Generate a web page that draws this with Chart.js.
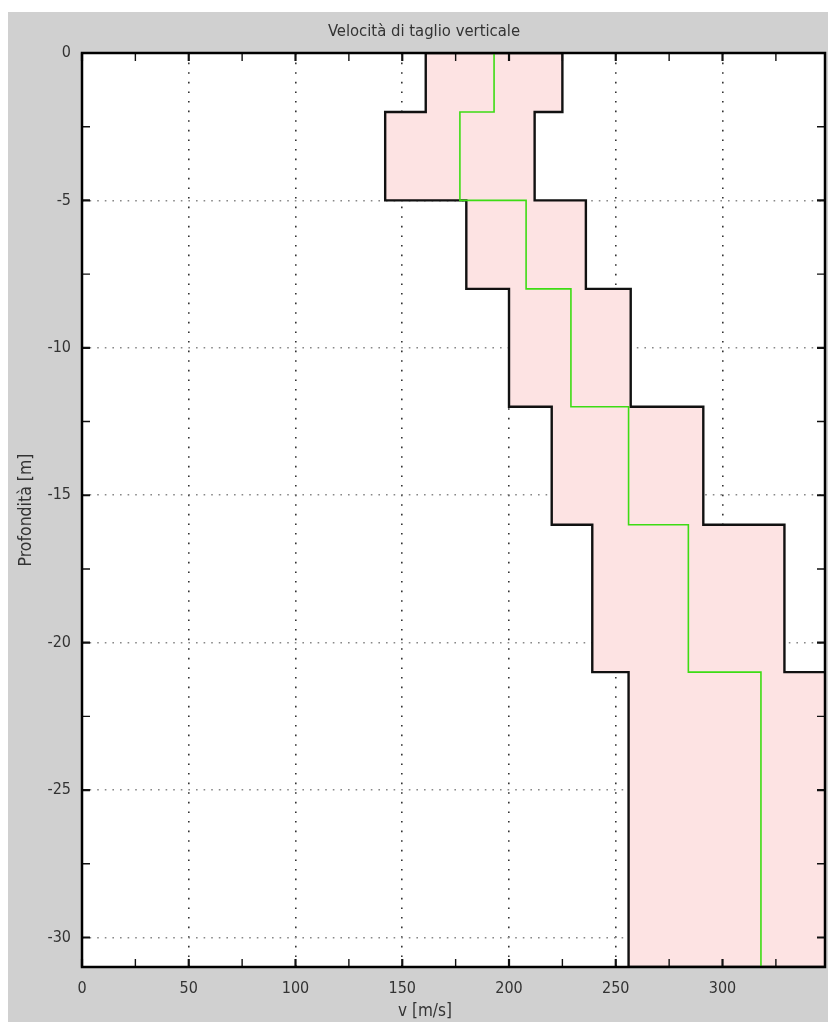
<!DOCTYPE html>
<html lang="it">
<head>
<meta charset="utf-8">
<title>Velocità di taglio verticale</title>
<script src="https://cdn.jsdelivr.net/npm/chart.js@4/dist/chart.umd.min.js"></script>
<style>
  html, body { margin: 0; padding: 0; background: #ffffff; }
  canvas { display: block; }
</style>
</head>
<body>
<canvas id="vsProfile" width="828" height="1022"></canvas>
<script>
// Layer boundaries (depth, m) and shear-wave velocity per layer (m/s)
const depthBounds = [0, -2, -5, -8, -12, -16, -21, -31];
const vsMin  = [161, 142, 180, 200, 220, 239, 256];
const vsMax  = [225, 212, 236, 257, 291, 329, 380];
const vsMean = [193, 177, 208, 229, 256, 284, 318];

// Labelled ticks
const xMajorTicks = [0, 50, 100, 150, 200, 250, 300];
const yMajorTicks = [0, -5, -10, -15, -20, -25, -30];

// Turn per-layer values into a stepped profile: each layer is a vertical segment
function stepProfile(values) {
  const pts = [];
  values.forEach((v, i) => {
    pts.push({ x: v, y: depthBounds[i] });
    pts.push({ x: v, y: depthBounds[i + 1] });
  });
  return pts;
}

// Closed band: down the lower bound, back up the upper bound
const lowerEdge = stepProfile(vsMin);
const upperEdge = stepProfile(vsMax).reverse();
const bandShape = lowerEdge.concat(upperEdge, [lowerEdge[0]]);

const FONT = '"DejaVu Sans Condensed", "Liberation Sans Narrow", "DejaVu Sans", sans-serif';
const TEXT = '#333333';

const frame = {
  id: 'frame',
  beforeDraw(chart) {
    const { ctx, chartArea: a } = chart;
    ctx.save();
    ctx.fillStyle = '#ffffff';
    ctx.fillRect(0, 0, chart.width, chart.height);
    ctx.fillStyle = '#d0d0d0';
    ctx.fillRect(8, 12, chart.width - 8, chart.height - 12);
    ctx.fillStyle = '#ffffff';
    ctx.fillRect(a.left, a.top, a.right - a.left, a.bottom - a.top);
    ctx.restore();
  },
  afterDraw(chart) {
    const { ctx, chartArea: a, scales } = chart;
    const len = 8;
    ctx.save();
    ctx.strokeStyle = '#111111';
    // inward tick marks on all four sides
    scales.x.ticks.forEach(t => {
      const px = scales.x.getPixelForValue(t.value);
      ctx.lineWidth = xMajorTicks.includes(t.value) ? 2.2 : 1.4;
      ctx.beginPath();
      ctx.moveTo(px, a.bottom); ctx.lineTo(px, a.bottom - len);
      ctx.moveTo(px, a.top); ctx.lineTo(px, a.top + len);
      ctx.stroke();
    });
    scales.y.ticks.forEach(t => {
      const py = scales.y.getPixelForValue(t.value);
      ctx.lineWidth = yMajorTicks.includes(t.value) ? 2.2 : 1.4;
      ctx.beginPath();
      ctx.moveTo(a.left, py); ctx.lineTo(a.left + len, py);
      ctx.moveTo(a.right, py); ctx.lineTo(a.right - len, py);
      ctx.stroke();
    });
    // plot frame
    ctx.lineWidth = 2.5;
    ctx.strokeStyle = '#000000';
    ctx.strokeRect(a.left, a.top, a.right - a.left, a.bottom - a.top);

    // axis titles
    ctx.fillStyle = TEXT;
    ctx.font = '17px ' + FONT;
    ctx.textAlign = 'center';
    ctx.textBaseline = 'middle';
    ctx.fillText('v [m/s]', 425, 1012);
    ctx.translate(26, (a.top + a.bottom) / 2);
    ctx.rotate(-Math.PI / 2);
    ctx.font = '17.5px ' + FONT;
    ctx.fillText('Profondità [m]', 0, 0);
    ctx.restore();
  }
};

new Chart(document.getElementById('vsProfile'), {
  type: 'scatter',
  data: {
    datasets: [
      {
        label: 'Vs medio',
        data: stepProfile(vsMean),
        showLine: true,
        borderColor: '#3ddc14',
        borderWidth: 1.6,
        pointRadius: 0,
        tension: 0,
        fill: false,
        order: 0
      },
      {
        label: 'Intervallo Vs',
        data: bandShape,
        showLine: true,
        borderColor: '#111111',
        borderWidth: 2.4,
        backgroundColor: '#fde3e3',
        pointRadius: 0,
        tension: 0,
        fill: 'shape',
        order: 1
      }
    ]
  },
  plugins: [frame],
  options: {
    responsive: false,
    animation: false,
    devicePixelRatio: 1,
    layout: { padding: { left: 23, right: 3, top: 0, bottom: 0 } },
    plugins: {
      legend: { display: false },
      tooltip: { enabled: false },
      title: {
        display: true,
        text: 'Velocità di taglio verticale',
        color: TEXT,
        font: { family: FONT, size: 16.5, weight: 'normal' },
        padding: { top: 22.1, bottom: 11.1 }
      }
    },
    scales: {
      x: {
        type: 'linear',
        min: 0,
        max: 348,
        z: 1,
        afterFit(scale) { scale.height = 55; },
        ticks: {
          stepSize: 25,
          includeBounds: false,
          autoSkip: false,
          maxRotation: 0,
          padding: 12.4,
          color: TEXT,
          font: { family: FONT, size: 16 },
          callback: v => xMajorTicks.includes(v) ? String(v) : ''
        },
        grid: {
          drawTicks: false,
          lineWidth: 1.6,
          color: c => (c.tick && c.tick.value !== 0 && xMajorTicks.includes(c.tick.value)) ? '#333333' : 'rgba(0,0,0,0)'
        },
        border: { display: false, dash: [1.6, 8] }
      },
      y: {
        type: 'linear',
        min: -31,
        max: 0,
        z: 1,
        afterFit(scale) { scale.width = 59; },
        ticks: {
          stepSize: 2.5,
          includeBounds: false,
          autoSkip: false,
          padding: 11,
          color: TEXT,
          font: { family: FONT, size: 16 },
          callback: v => yMajorTicks.includes(v) ? String(v) : ''
        },
        grid: {
          drawTicks: false,
          lineWidth: 1.6,
          color: c => (c.tick && c.tick.value !== 0 && yMajorTicks.includes(c.tick.value)) ? '#888888' : 'rgba(0,0,0,0)'
        },
        border: { display: false, dash: [1.6, 6] }
      }
    }
  }
});
</script>
</body>
</html>
